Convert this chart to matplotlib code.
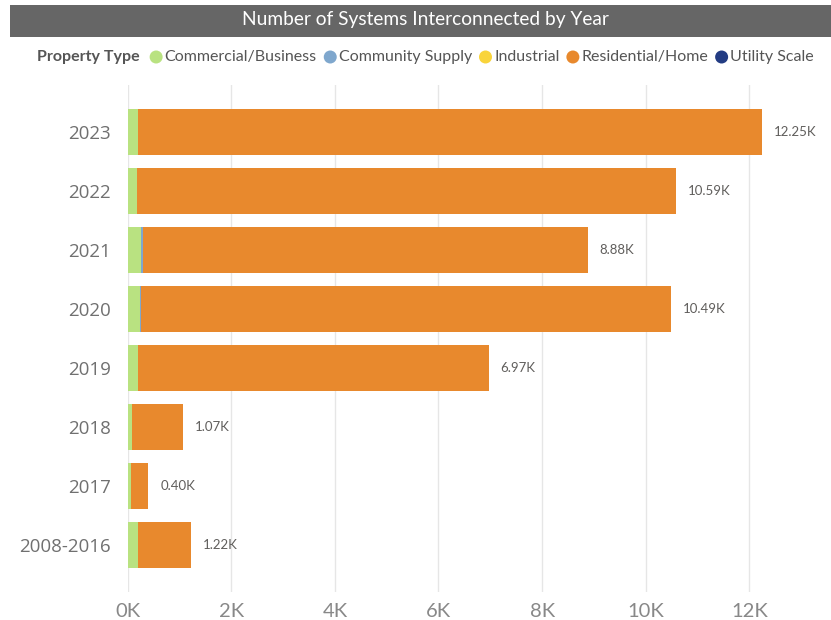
import matplotlib
matplotlib.use("Agg")
import matplotlib.pyplot as plt
from matplotlib.patches import Rectangle, Ellipse
import numpy as np

# Systems interconnected per year, by property type (counts)
years = ["2023", "2022", "2021", "2020", "2019", "2018", "2017", "2008-2016"]
totals = [12250, 10590, 8880, 10490, 6970, 1070, 400, 1220]
commercial = [195, 170, 265, 230, 190, 75, 65, 205]
community = [0, 12, 35, 20, 0, 0, 0, 0]
industrial = [0, 0, 0, 0, 0, 0, 0, 0]
utility = [0, 0, 0, 0, 0, 0, 0, 0]
residential = [t - c - s - i - u for t, c, s, i, u in
               zip(totals, commercial, community, industrial, utility)]
total_labels = ["12.25K", "10.59K", "8.88K", "10.49K", "6.97K", "1.07K", "0.40K", "1.22K"]

series = [
    ("Commercial/Business", commercial, "#B9E281"),
    ("Community Supply", community, "#7FA7CD"),
    ("Industrial", industrial, "#F9D43B"),
    ("Residential/Home", residential, "#E8892D"),
    ("Utility Scale", utility, "#233C83"),
]

x_ticks = [0, 2000, 4000, 6000, 8000, 10000, 12000]
x_tick_labels = ["0K", "2K", "4K", "6K", "8K", "10K", "12K"]

W, H = 831, 620
fig = plt.figure(figsize=(W / 100, H / 100), dpi=100)
fig.patch.set_facecolor("white")

# Title bar
fig.patches.append(Rectangle((10 / W, 1 - 37 / H), 1 - 10 / W, 32 / H,
                             transform=fig.transFigure, facecolor="#666666",
                             edgecolor="none", zorder=0))
fig.text(425 / W, 1 - 20 / H, "Number of Systems Interconnected by Year",
         ha="center", va="center", color="white", fontsize=13.8, family="Lato")

# Legend row
legend_y = 1 - 57 / H
renderer = fig.canvas.get_renderer()
x = 37
t = fig.text(x / W, legend_y, "Property Type", ha="left", va="center",
             color="#555555", fontsize=11.5, fontweight="bold", family="Lato")
bb = t.get_window_extent(renderer)
x = bb.x1 + 10
for name, _, col in series:
    fig.add_artist(Ellipse((x / W + 6.5 / W, legend_y), 13 / W, 13 / H,
                           transform=fig.transFigure,
                           facecolor=col, edgecolor="none"))
    x += 15
    t = fig.text(x / W, legend_y, name, ha="left", va="center",
                 color="#555555", fontsize=11.5, family="Lato")
    bb = t.get_window_extent(renderer)
    x = bb.x1 + 7

# Plot area
left, right, top, bottom = 127.7, 816.6, 85, 592
ax = fig.add_axes([left / W, 1 - bottom / H, (right - left) / W, (bottom - top) / H])
ypos = np.arange(len(years))
base = np.zeros(len(years))
for name, vals, col in series:
    vals = np.array(vals, dtype=float)
    ax.barh(ypos, vals, left=base, height=0.77, color=col, edgecolor="none", zorder=3)
    base += vals

for yp, tot, lab in zip(ypos, totals, total_labels):
    ax.text(tot + 230, yp, lab, va="center", ha="left", fontsize=9.5,
            color="#605E5C", family="Lato")

ax.set_xlim(0, 13300)
ax.set_ylim(7.8, -0.8)
ax.set_yticks(ypos)
ax.set_yticklabels(years, fontsize=13.5, color="#707070", family="Open Sans")
ax.set_xticks(x_ticks)
ax.set_xticklabels(x_tick_labels, fontsize=14.5, color="#888888", family="Lato")
ax.tick_params(axis="y", length=0, pad=12)
ax.tick_params(axis="x", length=0, pad=8)
ax.grid(axis="x", color="#E6E6E6", linewidth=1, zorder=0)
for s in ax.spines.values():
    s.set_visible(False)

fig.savefig("out.png", dpi=100)
